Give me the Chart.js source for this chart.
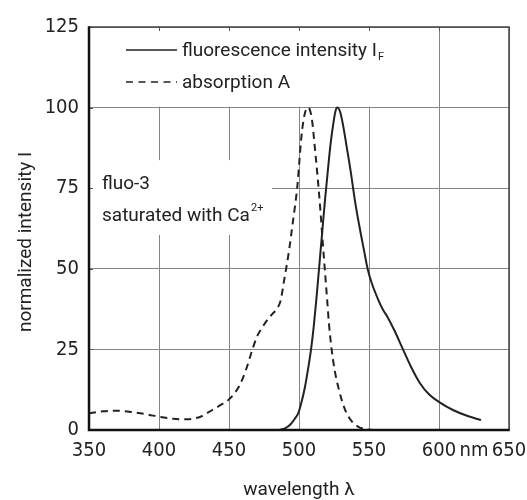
<!DOCTYPE html>
<html>
<head>
<meta charset="utf-8">
<script src="https://cdn.jsdelivr.net/npm/chart.js@4/dist/chart.umd.min.js"></script>
<style>
  html, body { margin: 0; padding: 0; background: #fff; }
  #wrap { width: 527px; height: 500px; }
</style>
</head>
<body>
<div id="wrap"><canvas id="c" width="527" height="500"></canvas></div>
<script>
// ---- data ----
const fluoX = [486, 490, 494, 497, 499.5, 502, 504.3, 506.5, 508.6, 510.5, 512.5, 514.5, 516.5, 518.5, 520.5, 522.5, 524.5, 526, 527.4, 529.5, 531.5, 534, 537, 540, 543, 546.4, 549, 552, 556.7, 560, 563.3, 568, 574.5, 580, 586.4, 593, 600.7, 610, 620, 630];
const fluoY = [0, 0.5, 1.8, 3.5, 5.2, 9, 13.4, 19, 25, 32, 41, 51, 61, 71, 80, 88.5, 95, 98.8, 100, 98.5, 94.5, 88, 80, 71, 63.5, 55.8, 50, 45.5, 40.3, 37.3, 35, 31, 24.8, 19.6, 14.5, 11, 8.5, 6.2, 4.4, 3.1];
const absX = [350, 360, 368, 380, 392, 400, 410, 420, 430, 438, 445, 450, 457, 462, 466.6, 470, 474, 478, 481, 484, 487, 489, 491, 493, 495, 497, 498.8, 500.2, 501.5, 503, 504.7, 506.7, 508.3, 509.5, 511, 513.3, 515.3, 517, 518.4, 520, 521.4, 523.3, 525.5, 528.8, 531.5, 534, 538, 542.4, 547, 553, 560];
const absY = [5.2, 5.8, 6.0, 5.6, 4.8, 4.1, 3.5, 3.3, 4.2, 6.2, 8, 9.5, 13.4, 18.5, 24.8, 29, 32, 34.5, 36, 37.5, 40.3, 45.5, 50.5, 56, 62.5, 69, 75.5, 83, 90, 95.5, 99, 100, 98.5, 95.5, 89, 78.5, 68, 58, 50, 41, 33, 25, 18.5, 12, 8, 5.2, 2.5, 1, 0.3, 0, 0];
const xTicks = [350, 400, 450, 500, 550, 600, 625, 650];
const xTickLabels = ['350', '400', '450', '500', '550', '600', 'nm', '650'];
const yTicks = [0, 25, 50, 75, 100, 125];
const seriesNames = ['fluorescence intensity I', 'absorption A'];
const seriesSub = ['F', ''];
const noteLines = ['fluo-3', 'saturated with Ca'];
const noteSup = '2+';
const xTitle = 'wavelength \u03BB';
const yTitle = 'normalized intensity I';

const TXT = "Roboto, 'DejaVu Sans Condensed', sans-serif";
const NUM = "'Liberation Sans Narrow', 'DejaVu Sans Condensed', Roboto, sans-serif";
const INK = '#222';
const GRID = '#858585';

const toPts = (xs, ys) => xs.map((v, i) => ({ x: v, y: ys[i] }));

const decor = {
  id: 'decor',
  beforeDatasetsDraw(chart) {
    const { ctx, chartArea: a, scales: { x, y } } = chart;
    ctx.save();
    ctx.fillStyle = '#fff';
    // legend box mask (hides grid behind legend)
    const xl = x.getPixelForValue(600) - 2;
    const yl = y.getPixelForValue(100) - 1;
    ctx.fillRect(a.left + 1, a.top + 1, xl - a.left - 1, yl - a.top - 1);
    // note box mask
    const ny1 = y.getPixelForValue(83.7), ny2 = y.getPixelForValue(60.5);
    const nx2 = x.getPixelForValue(480.7);
    ctx.fillRect(a.left + 1, ny1, nx2 - a.left - 1, ny2 - ny1);
    // inward ticks
    ctx.strokeStyle = '#555';
    ctx.lineWidth = 1;
    xTicks.forEach(v => {
      if (v === 625) return;
      const px = Math.round(x.getPixelForValue(v)) + 0.5;
      ctx.beginPath(); ctx.moveTo(px, a.top); ctx.lineTo(px, a.top + 4); ctx.stroke();
    });
    yTicks.forEach(v => {
      const py = Math.round(y.getPixelForValue(v)) + 0.5;
      ctx.beginPath(); ctx.moveTo(a.left, py); ctx.lineTo(a.left + 4, py); ctx.stroke();
    });
    ctx.restore();
  },
  afterDatasetsDraw(chart) {
    const { ctx, chartArea: a } = chart;
    ctx.save();
    // frame
    ctx.strokeStyle = '#444';
    ctx.lineWidth = 1.5;
    ctx.beginPath();
    ctx.moveTo(a.left, a.top); ctx.lineTo(a.right, a.top); ctx.lineTo(a.right, a.bottom);
    ctx.stroke();
    ctx.strokeStyle = '#111';
    ctx.lineWidth = 2.5;
    ctx.beginPath();
    ctx.moveTo(a.left, a.top - 0.75); ctx.lineTo(a.left, a.bottom); ctx.lineTo(a.right + 0.75, a.bottom);
    ctx.stroke();

    // legend
    ctx.fillStyle = INK;
    ctx.strokeStyle = INK;
    ctx.lineWidth = 1.6;
    ctx.textBaseline = 'alphabetic';
    const lx1 = a.left + 37, lx2 = a.left + 88, tx = a.left + 93;
    const ly = [a.top + 23, a.top + 55];
    ctx.beginPath(); ctx.moveTo(lx1, ly[0]); ctx.lineTo(lx2, ly[0]); ctx.stroke();
    ctx.setLineDash([7, 5.5]);
    ctx.beginPath(); ctx.moveTo(lx1, ly[1]); ctx.lineTo(lx2, ly[1]); ctx.stroke();
    ctx.setLineDash([]);
    seriesNames.forEach((n, i) => {
      const base = ly[i] + 6;
      ctx.font = '19px ' + TXT;
      ctx.fillText(n, tx, base);
      if (seriesSub[i]) {
        const w = ctx.measureText(n).width;
        ctx.font = '11px ' + TXT;
        ctx.fillText(seriesSub[i], tx + w + 1, base + 4);
      }
    });

    // note
    ctx.font = '19px ' + TXT;
    const nx = a.left + 13;
    ctx.fillText(noteLines[0], nx, 189);
    ctx.fillText(noteLines[1], nx, 221);
    const w2 = ctx.measureText(noteLines[1]).width;
    ctx.font = '11px ' + TXT;
    ctx.fillText(noteSup, nx + w2 + 1, 211);

    // axis titles
    ctx.font = '19px ' + TXT;
    ctx.textAlign = 'center';
    ctx.fillText(xTitle, (a.left + a.right) / 2, 495);
    ctx.translate(31, 242);
    ctx.rotate(-Math.PI / 2);
    ctx.fillText(yTitle, 0, 0);
    ctx.restore();
  }
};

new Chart(document.getElementById('c'), {
  type: 'line',
  data: {
    datasets: [
      {
        label: seriesNames[0],
        data: toPts(fluoX, fluoY),
        borderColor: INK, borderWidth: 2, pointRadius: 0,
        cubicInterpolationMode: 'monotone', fill: false
      },
      {
        label: seriesNames[1],
        data: toPts(absX, absY),
        borderColor: INK, borderWidth: 2, borderDash: [7, 5], pointRadius: 0,
        cubicInterpolationMode: 'monotone', fill: false
      }
    ]
  },
  options: {
    responsive: false,
    animation: false,
    events: [],
    layout: { padding: { left: 0, right: 18, top: 27, bottom: 0 } },
    plugins: { legend: { display: false }, tooltip: { enabled: false } },
    scales: {
      x: {
        type: 'linear', min: 350, max: 650,
        afterBuildTicks: s => { s.ticks = xTicks.map(v => ({ value: v })); },
        afterFit: s => { s.height = 70; s.paddingLeft = 0; s.paddingRight = 0; },
        ticks: {
          autoSkip: false, maxRotation: 0, padding: 9, color: INK,
          font: { family: NUM, size: 20 },
          callback: v => xTickLabels[xTicks.indexOf(v)]
        },
        grid: {
          drawTicks: false, lineWidth: 1,
          color: c => (c.tick && c.tick.value === 625) ? 'rgba(0,0,0,0)' : GRID
        },
        border: { display: false }
      },
      y: {
        min: 0, max: 125,
        afterBuildTicks: s => { s.ticks = yTicks.map(v => ({ value: v })); },
        afterFit: s => { s.width = 89; s.paddingTop = 0; s.paddingBottom = 0; },
        ticks: {
          padding: 10, color: INK,
          font: { family: NUM, size: 20 }
        },
        grid: { drawTicks: false, lineWidth: 1, color: GRID },
        border: { display: false }
      }
    }
  },
  plugins: [decor]
});
</script>
</body>
</html>
